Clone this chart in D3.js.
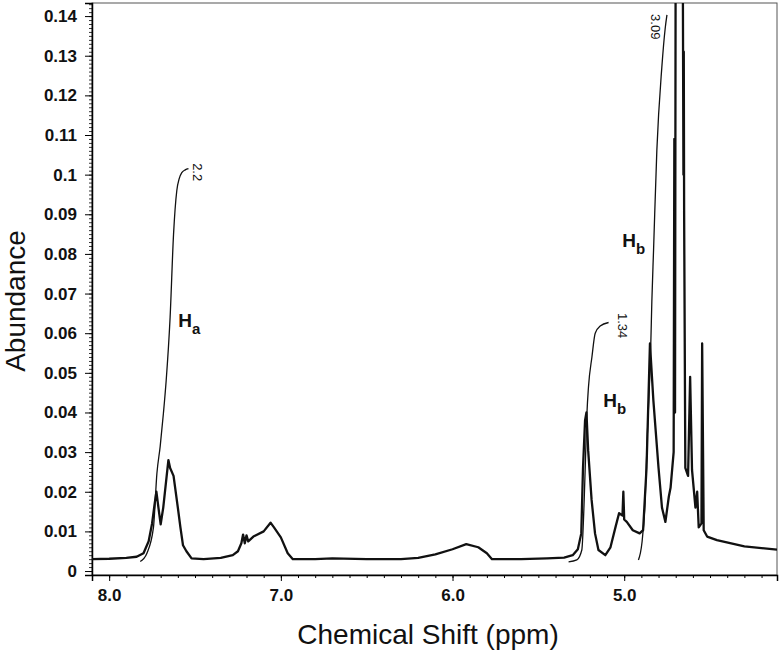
<!DOCTYPE html>
<html>
<head>
<meta charset="utf-8">
<script src="https://d3js.org/d3.v7.min.js"></script>
<style>
  body { margin: 0; background: #fff; }
  svg { display: block; font-family: "Liberation Sans", Arial, sans-serif; }
</style>
</head>
<body>
<svg id="chart" width="780" height="656"></svg>
<script>
// spectrum: [ppm, abundance]
var spectrum = [
  [8.10, 0.0030], [8.00, 0.0031], [7.90, 0.0033], [7.84, 0.0036], [7.80, 0.0045],
  [7.77, 0.0075], [7.75, 0.0120], [7.735, 0.0170], [7.725, 0.0200], [7.71, 0.0150],
  [7.70, 0.0118], [7.685, 0.0160], [7.665, 0.0240], [7.655, 0.0280], [7.645, 0.0260],
  [7.625, 0.0240], [7.60, 0.0160], [7.585, 0.0110], [7.57, 0.0065], [7.55, 0.0050],
  [7.52, 0.0032], [7.45, 0.0030], [7.35, 0.0033], [7.28, 0.0040], [7.25, 0.0050],
  [7.23, 0.0070], [7.22, 0.0092], [7.21, 0.0070], [7.20, 0.0090], [7.19, 0.0075],
  [7.16, 0.0087], [7.10, 0.0100], [7.06, 0.0122], [7.04, 0.0110], [7.00, 0.0085],
  [6.96, 0.0045], [6.93, 0.0030], [6.80, 0.0030], [6.70, 0.0032], [6.50, 0.0030],
  [6.30, 0.0030], [6.20, 0.0033], [6.10, 0.0042], [6.00, 0.0055], [5.92, 0.0068],
  [5.85, 0.0060], [5.80, 0.0045], [5.77, 0.0030], [5.60, 0.0030], [5.45, 0.0032],
  [5.35, 0.0034], [5.30, 0.0040], [5.27, 0.0055], [5.25, 0.0095], [5.24, 0.0260],
  [5.228, 0.0380], [5.22, 0.0400], [5.21, 0.0305], [5.19, 0.0180], [5.17, 0.0095],
  [5.15, 0.0053], [5.11, 0.0040], [5.08, 0.0060], [5.05, 0.0112], [5.03, 0.0146],
  [5.01, 0.0140], [5.005, 0.0200], [5.00, 0.0130], [4.985, 0.0124], [4.95, 0.0103],
  [4.91, 0.0095], [4.89, 0.0103], [4.87, 0.0260], [4.85, 0.0574], [4.83, 0.0430],
  [4.80, 0.0260], [4.78, 0.0160], [4.76, 0.0124], [4.74, 0.0188], [4.73, 0.0210],
  [4.712, 0.0300], [4.708, 0.1090], [4.704, 0.0400], [4.699, 0.2000], [4.680, 0.3000],
  [4.662, 0.2000], [4.655, 0.1000], [4.653, 0.1310], [4.651, 0.0910], [4.644, 0.0260],
  [4.628, 0.0240], [4.616, 0.0490], [4.605, 0.0255], [4.585, 0.0160], [4.575, 0.0200],
  [4.566, 0.0110], [4.550, 0.0120], [4.546, 0.0574], [4.537, 0.0103], [4.517, 0.0087],
  [4.46, 0.0078], [4.30, 0.0062], [4.11, 0.0054]
];

// integral curves
var integralHa = [
  [7.819, 0.0024], [7.780, 0.0045], [7.742, 0.0110], [7.722, 0.0246], [7.703, 0.0314],
  [7.684, 0.0398], [7.668, 0.0480], [7.645, 0.0640], [7.625, 0.0850], [7.606, 0.0960],
  [7.592, 0.0990], [7.577, 0.1005], [7.557, 0.1012], [7.538, 0.1015]
];
var integralHb1 = [
  [5.324, 0.0023], [5.276, 0.0028], [5.247, 0.0053], [5.233, 0.0180], [5.224, 0.0305],
  [5.217, 0.0398], [5.208, 0.0465], [5.188, 0.0540], [5.169, 0.0600], [5.140, 0.0618],
  [5.091, 0.0627]
];
var integralHb2 = [
  [4.917, 0.0028], [4.897, 0.0070], [4.878, 0.0179], [4.865, 0.0347], [4.853, 0.0470],
  [4.845, 0.0575], [4.839, 0.0680], [4.829, 0.0810], [4.810, 0.1060], [4.781, 0.1270],
  [4.761, 0.1370], [4.751, 0.1403]
];

var integralLabels = [
  { text: "2.2", ppm: 7.487, val: 0.1029 },
  { text: "1.34", ppm: 5.012, val: 0.0651 },
  { text: "3.09", ppm: 4.819, val: 0.1405 }
];
var protonLabels = [
  { sub: "a", ppm: 7.598, val: 0.0616 },
  { sub: "b", ppm: 5.012, val: 0.0817 },
  { sub: "b", ppm: 5.122, val: 0.0414 }
];

var xTicks = [8, 7, 6, 5];
var yTicks = [0, 0.01, 0.02, 0.03, 0.04, 0.05, 0.06, 0.07, 0.08, 0.09, 0.1, 0.11, 0.12, 0.13, 0.14];

var svg = d3.select("#chart");
var plotL = 92, plotR = 777, plotT = 3, plotB = 575;

var x = d3.scaleLinear().domain([8.1, 4.11]).range([plotL, plotR]);
var y = d3.scaleLinear().domain([-0.001, 0.1433]).range([plotB, plotT]);

svg.append("clipPath").attr("id", "plot")
  .append("rect")
  .attr("x", plotL).attr("y", plotT)
  .attr("width", plotR - plotL).attr("height", plotB - plotT);

// frame
svg.append("rect")
  .attr("x", plotL).attr("y", plotT)
  .attr("width", plotR - plotL).attr("height", plotB - plotT)
  .attr("fill", "none").attr("stroke", "#555").attr("stroke-width", 1);

// x axis: minor every 0.1, labelled every 1.0
var xMinor = d3.range(42, 82).map(function(d) { return d / 10; });
svg.append("g")
  .attr("transform", "translate(0," + plotB + ")")
  .call(d3.axisBottom(x).tickValues(xMinor).tickSize(3).tickFormat(""))
  .call(function(g) { g.select(".domain").remove(); });
svg.append("g")
  .attr("transform", "translate(0," + plotB + ")")
  .call(d3.axisBottom(x).tickValues(xTicks).tickSize(6).tickPadding(8).tickFormat(d3.format(".1f")))
  .call(function(g) {
    g.select(".domain").attr("stroke-width", 1.5);
    g.selectAll("text").attr("font-size", 17).attr("font-weight", "bold").attr("fill", "#111");
  });

// y axis: minor every 0.001
var yMinor = d3.range(0, 144).map(function(d) { return d / 1000; });
svg.append("g")
  .attr("transform", "translate(" + plotL + ",0)")
  .call(d3.axisLeft(y).tickValues(yMinor).tickSize(3).tickFormat(""))
  .call(function(g) { g.select(".domain").remove(); g.selectAll("line").attr("stroke-width", 0.8); });
svg.append("g")
  .attr("transform", "translate(" + plotL + ",0)")
  .call(d3.axisLeft(y).tickValues(yTicks).tickSize(7).tickPadding(8).tickFormat(function(d) { return String(+d.toFixed(2)); }))
  .call(function(g) {
    g.select(".domain").attr("stroke-width", 1.5);
    g.selectAll("text").attr("font-size", 17).attr("font-weight", "bold").attr("fill", "#111");
  });

var line = d3.line()
  .x(function(d) { return x(d[0]); })
  .y(function(d) { return y(d[1]); });

var plot = svg.append("g").attr("clip-path", "url(#plot)");

plot.append("path")
  .datum(spectrum)
  .attr("d", line)
  .attr("fill", "none")
  .attr("stroke", "#111")
  .attr("stroke-width", 2.3)
  .attr("stroke-linejoin", "round");

var smooth = d3.line()
  .x(function(d) { return x(d[0]); })
  .y(function(d) { return y(d[1]); })
  .curve(d3.curveMonotoneX);

[integralHa, integralHb1, integralHb2].forEach(function(d) {
  plot.append("path")
    .datum(d.slice().reverse())
    .attr("d", smooth)
    .attr("fill", "none")
    .attr("stroke", "#111")
    .attr("stroke-width", 1.3);
});

// integral values, rotated
integralLabels.forEach(function(d) {
  svg.append("text")
    .attr("transform", "translate(" + x(d.ppm) + "," + y(d.val) + ") rotate(90)")
    .attr("dy", "0.35em")
    .attr("font-size", 13)
    .attr("fill", "#111")
    .text(d.text);
});

// H labels
protonLabels.forEach(function(d) {
  var t = svg.append("text")
    .attr("x", x(d.ppm)).attr("y", y(d.val))
    .attr("font-size", 19).attr("font-weight", "bold").attr("fill", "#111");
  t.append("tspan").text("H");
  t.append("tspan").attr("dy", 7).attr("font-size", 15).text(d.sub);
});

// axis titles
svg.append("text")
  .attr("x", 428).attr("y", 644)
  .attr("text-anchor", "middle")
  .attr("font-size", 28).attr("fill", "#111")
  .text("Chemical Shift (ppm)");

svg.append("text")
  .attr("transform", "translate(25,301) rotate(-90)")
  .attr("text-anchor", "middle")
  .attr("font-size", 28).attr("fill", "#111")
  .text("Abundance");
</script>
</body>
</html>
